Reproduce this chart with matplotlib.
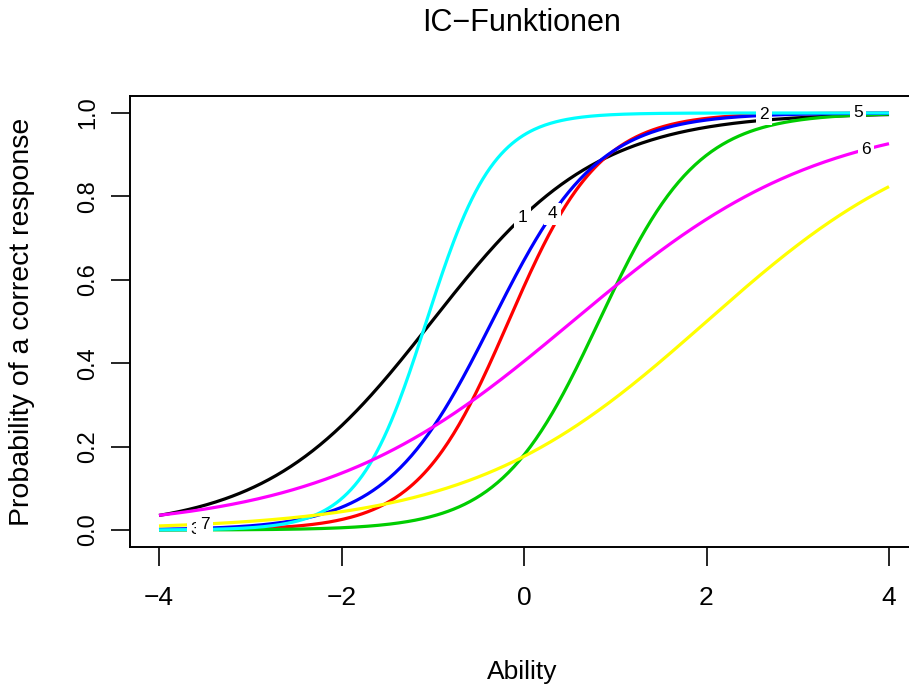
import numpy as np
import matplotlib
matplotlib.use('Agg')
import matplotlib.pyplot as plt

# Item characteristic curves (2PL): parameters
items = ['1', '2', '3', '4', '5', '6', '7']
colors = ['black', 'red', '#00CD00', 'blue', 'cyan', 'magenta', 'yellow']
discrimination = [1.11, 2.0, 1.85, 1.73, 2.7, 0.73, 0.77]
difficulty = [-1.01, -0.17, 0.82, -0.35, -1.07, 0.53, 2.0]
label_x = [-0.02, 2.63, -3.60, 0.31, 3.66, 3.75, -3.50]

x_ticks = [-4, -2, 0, 2, 4]
y_ticks = [0.0, 0.2, 0.4, 0.6, 0.8, 1.0]
title = 'IC\u2212Funktionen'
xlabel = 'Ability'
ylabel = 'Probability of a correct response'

NORMAL = ['Liberation Sans', 'DejaVu Sans']

def icc(theta, a, b):
    return 1.0 / (1.0 + np.exp(-a * (theta - b)))

fig = plt.figure(figsize=(9.09, 6.88), dpi=100)
ax = fig.add_axes([129.8 / 909, 1 - 546.7 / 688, 788.4 / 909, 450.4 / 688])

theta = np.linspace(-4, 4, 400)
for a, b, c in zip(discrimination, difficulty, colors):
    ax.plot(theta, icc(theta, a, b), color=c, lw=2.3, solid_capstyle='butt', zorder=2)

for lab, lx, a, b in zip(items, label_x, discrimination, difficulty):
    ax.text(lx, icc(lx, a, b), lab, ha='center', va='center', fontsize=12.5,
            family=NORMAL, zorder=3,
            bbox=dict(facecolor='white', edgecolor='none', pad=2.5))

ax.set_xlim(-4.32, 4.32)
ax.set_ylim(-0.04, 1.04)
ax.set_xticks(x_ticks)
ax.set_xticklabels([str(t).replace('-', '\u2212') for t in x_ticks], family=NORMAL, fontsize=19)
ax.set_yticks(y_ticks)
ax.set_yticklabels([f'{t:.1f}' for t in y_ticks], family=NORMAL, fontsize=17,
                   rotation=90, va='center')
ax.tick_params(axis='both', direction='out', length=14, width=1.2)
ax.tick_params(axis='x', pad=14)
ax.tick_params(axis='y', pad=8)
for s in ax.spines.values():
    s.set_linewidth(1.4)

fig.text(522 / 909, 1 - 23 / 688, title, ha='center', va='center', fontsize=22, family=NORMAL)
fig.text(522 / 909, 1 - 672 / 688, xlabel, ha='center', va='center', fontsize=19, family=NORMAL)
fig.text(22 / 909, 1 - 322 / 688, ylabel, ha='center', va='center', fontsize=20.5,
         family=NORMAL, rotation=90)

fig.savefig('out.png', dpi=100)
